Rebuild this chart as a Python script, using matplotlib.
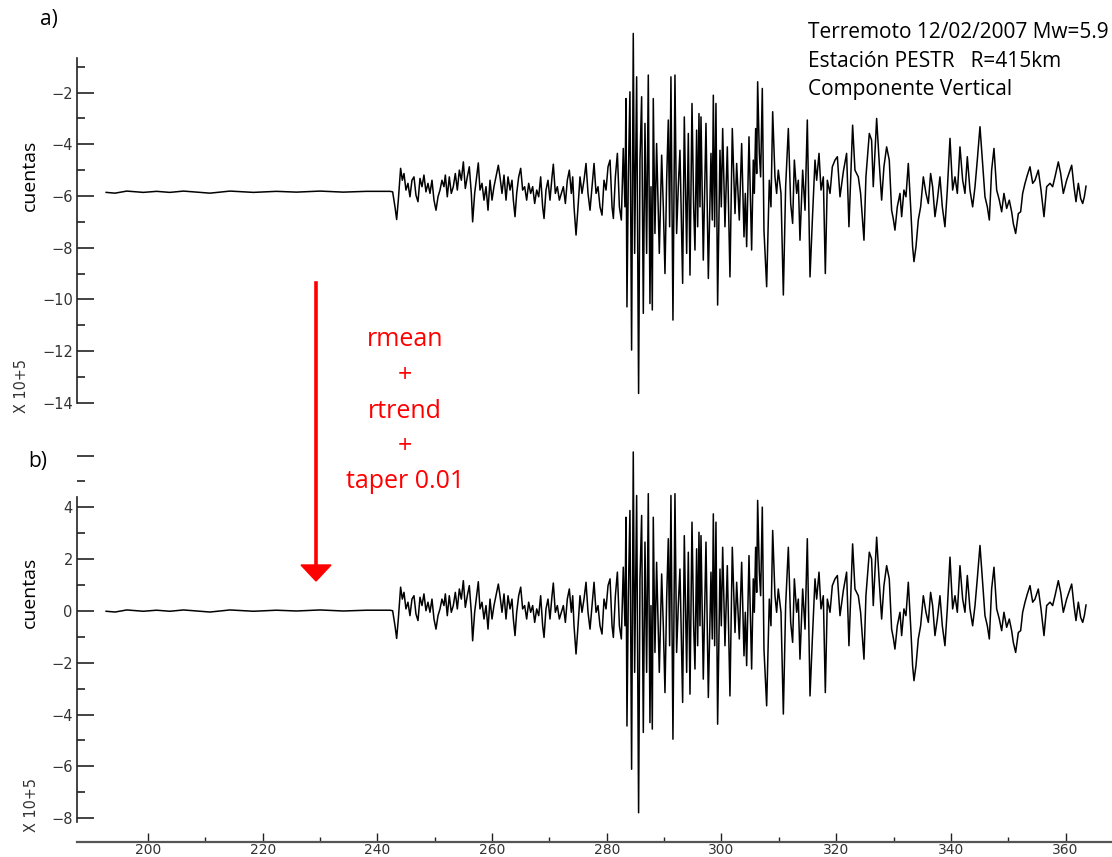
import matplotlib.pyplot as plt
import numpy as np
from matplotlib.ticker import FixedLocator
from matplotlib.lines import Line2D
from matplotlib.patches import Polygon

# seismogram, (time s, counts x 10^5 after rmean/rtrend)
pre_event = [(192.7, -0.01), (194.25, -0.04), (196.3, 0.04), (199.2, -0.01), (201.5, 0.03),
             (203.8, -0.01), (206.2, 0.04), (208.5, 0.0), (210.8, -0.04), (214.3, 0.04),
             (218.4, -0.01), (222.4, 0.03), (225.9, 0.0), (230.0, 0.04), (234.05, 0.0),
             (238.1, 0.03), (242.2, 0.03)]

p_coda = [(242.66, 0.01), (243.07, -0.57), (243.36, -1.06), (243.65, -0.31), (244.05, 0.92),
          (244.35, 0.46), (244.64, 0.72), (244.98, 0.08), (245.33, 0.34), (245.68, -0.18),
          (246.03, 0.46), (246.38, 0.59), (246.73, -0.12), (247.08, -0.37), (247.43, 0.53),
          (247.78, 0.21), (248.12, 0.66), (248.47, 0.01), (248.82, 0.34), (249.17, -0.05),
          (249.52, 0.46), (249.87, -0.31), (250.22, -0.70), (250.57, -0.18), (250.92, 0.08),
          (251.26, 0.46), (251.61, 0.21), (251.85, 0.66), (252.19, -0.18), (252.54, 0.59),
          (252.89, -0.05), (253.24, 0.21), (253.59, 0.72), (253.94, 0.08), (254.29, 0.85),
          (254.64, 0.46), (254.99, 1.17), (255.33, 0.14), (255.68, 0.59), (256.03, 0.98),
          (256.38, -0.05), (256.61, -1.15), (256.96, -0.05), (257.31, 0.59), (257.60, 1.13),
          (257.89, 0.08), (258.24, 0.34), (258.59, -0.31), (258.94, 0.21), (259.29, -0.70),
          (259.64, 0.46), (259.99, -0.31), (260.33, 0.21), (260.68, 0.59), (261.09, 1.04),
          (261.38, 0.59), (261.73, -0.05), (262.08, 0.66), (262.43, -0.31), (262.78, 0.59),
          (263.13, 0.08), (263.47, 0.46), (263.71, -0.31), (264.00, -0.95), (264.29, -0.05),
          (264.64, 0.59), (264.99, 0.92), (265.33, 0.08), (265.68, 0.21), (266.03, -0.31),
          (266.38, 0.34), (266.73, -0.05), (267.08, 0.21), (267.43, -0.44), (267.78, 0.08),
          (268.13, -0.18), (268.47, 0.59), (268.82, -0.57), (269.06, -1.02), (269.40, 0.08),
          (269.75, 0.46), (270.10, -0.31), (270.45, 0.59), (270.68, 1.08), (271.03, -0.05),
          (271.38, 0.21), (271.73, -0.31), (272.08, -0.05), (272.43, 0.21), (272.78, -0.44),
          (273.12, 0.46), (273.47, 0.85), (273.82, -0.05), (274.06, 0.59), (274.29, -0.57),
          (274.64, -1.66), (274.99, -0.57), (275.33, 0.59), (275.68, -0.05), (276.03, 0.46),
          (276.38, 1.11), (276.73, -0.05), (277.08, -0.70), (277.43, 0.21), (277.78, 1.11),
          (278.13, -0.05), (278.47, 0.21), (278.82, -0.57), (279.17, -0.89), (279.52, 0.46),
          (279.87, 0.08), (280.22, 0.98), (280.57, 1.24), (280.92, -0.57), (281.15, -1.02),
          (281.50, 0.59), (281.85, 1.50), (282.20, -0.57), (282.54, -1.08)]

strong_motion = [(282.88, 1.69), (283.17, -0.57), (283.34, 3.62), (283.52, -4.44), (283.75, 0.46),
                 (284.04, 3.88), (284.33, -6.11), (284.62, 6.14), (284.86, -2.37), (285.21, 4.46),
                 (285.55, -7.79), (285.79, 1.24), (286.08, 3.69), (286.37, -4.69), (286.66, 2.66),
                 (286.95, -2.37), (287.24, 4.53), (287.53, -4.31), (287.71, 0.21), (287.94, -4.56),
                 (288.11, 3.62), (288.40, -1.60), (288.69, 1.88), (289.16, -2.37), (289.57, 1.43),
                 (289.86, -0.57), (290.15, -3.15), (290.44, 0.46), (290.73, 2.79), (290.96, -1.34),
                 (291.19, 4.46), (291.54, -4.95), (291.89, 4.53), (292.18, -1.60), (292.47, 0.21),
                 (292.76, 1.62), (293.23, -3.53), (293.52, 2.91), (293.93, -2.37), (294.22, 2.27),
                 (294.51, -3.21), (294.86, 3.43), (295.15, -0.57), (295.38, -2.24), (295.67, 2.40),
                 (295.85, -1.34), (296.08, 3.04), (296.25, -0.57), (296.43, 2.91), (296.83, -2.63),
                 (297.30, 2.66), (297.71, -3.34), (298.17, 1.50), (298.40, -1.08), (298.58, 3.75),
                 (298.81, -1.34), (299.04, 3.43), (299.33, -4.37), (299.74, 1.62), (299.97, -0.57),
                 (300.21, 2.46), (300.61, -1.34), (301.02, 1.75), (301.48, -3.28), (301.89, 2.46),
                 (302.36, -0.83), (302.65, 1.11), (303.11, -1.08), (303.52, 1.88), (303.93, -1.73),
                 (304.16, -0.05), (304.39, -2.11), (304.80, 2.14), (305.26, -2.24), (305.55, 1.24),
                 (305.73, -0.05), (305.96, 2.46), (306.14, 0.72), (306.31, 4.27), (306.60, 1.50),
                 (306.83, 0.59), (307.12, 4.01), (307.41, -1.47), (307.88, -3.66), (308.34, 0.46),
                 (308.63, -0.57), (308.93, 3.11), (309.33, 0.59), (309.62, -0.05), (309.91, 0.85),
                 (310.38, -0.05), (310.79, -3.98), (311.19, 0.21), (311.66, 2.46), (312.07, -0.44),
                 (312.41, -1.21), (312.71, 1.24), (313.11, -0.05), (313.40, 0.46), (313.69, -1.86),
                 (314.16, 0.85), (314.57, -0.70), (314.97, 2.79), (315.44, -3.28), (315.85, -1.08),
                 (316.31, 1.24), (316.60, 0.46), (317.01, 1.50), (317.36, 0.08), (317.76, 0.59),
                 (318.11, -3.15), (318.46, 0.46), (318.93, -0.05), (319.33, 0.98), (319.80, 1.24),
                 (320.21, 1.37), (320.67, -0.18), (321.25, 0.79)]

s_coda = [(321.82, 1.50), (322.23, -1.34), (322.87, 2.59), (323.28, 0.85), (323.86, 0.59),
          (324.26, -0.05), (324.85, -1.86), (325.19, 0.59), (325.78, 2.27), (326.18, 2.01),
          (326.47, 0.21), (327.06, 2.85), (327.52, 1.11), (327.93, -0.31), (328.33, 0.98),
          (328.80, 1.75), (329.26, 1.24), (329.67, -0.70), (329.96, -1.03), (330.25, -1.47),
          (330.66, -0.57), (331.13, -0.05), (331.42, -0.95), (331.82, 0.08), (332.17, -0.18),
          (332.58, 1.11), (332.99, -0.57), (333.33, -2.11), (333.57, -2.69), (333.92, -2.11),
          (334.32, -1.08), (334.73, -0.57), (335.20, 0.59), (335.66, -0.05), (336.07, -0.44),
          (336.47, 0.72), (336.82, 0.21), (337.23, -0.95), (337.64, -0.31), (338.10, 0.59),
          (338.51, -0.57), (338.97, -1.34), (339.38, 0.08), (339.85, 2.08), (340.31, 0.08),
          (340.72, 0.59), (341.13, -0.05), (341.59, 1.75), (342.06, 0.46), (342.46, -0.05),
          (342.87, 1.37), (343.33, 0.08), (343.80, -0.57), (344.21, 0.21), (344.61, 1.24),
          (345.08, 2.53), (345.54, 1.11), (345.95, -0.18), (346.36, -0.57), (346.71, -1.08),
          (347.11, 0.85), (347.52, 1.69), (347.99, 0.08), (348.45, -0.31), (348.86, -0.76),
          (349.26, -0.05), (349.73, -0.63), (350.19, -0.31), (350.60, -0.76), (350.89, -1.21),
          (351.30, -1.60), (351.77, -0.83), (352.17, -0.76), (352.52, -0.05), (352.93, 0.34),
          (353.34, 0.66), (353.80, 0.98), (354.27, 0.34), (354.67, 0.46), (355.25, 0.85),
          (355.72, 0.08), (356.24, -0.95), (356.71, 0.21), (357.29, 0.34), (357.75, 0.21),
          (358.16, 0.59), (358.74, 1.17), (359.15, 0.72), (359.61, -0.05), (360.19, 0.46),
          (361.07, 1.04), (361.47, 0.21), (361.82, -0.37), (362.23, 0.34), (362.64, -0.25),
          (362.99, -0.44), (363.28, -0.18), (363.57, 0.23)]

raw_mean = -5.85  # level of the raw record (panel a), removed by rmean

header_lines = ['Terremoto 12/02/2007 Mw=5.9', 'Estación PESTR   R=415km', 'Componente Vertical']
process_lines = ['rmean', '+', 'rtrend', '+', 'taper 0.01']

trace = np.array(pre_event + p_coda + strong_motion + s_coda)
t = trace[:, 0]
counts = trace[:, 1]

W, H = 1112, 857


def fx(px):
    return px / W


def fy(py):
    return 1 - py / H


fig = plt.figure(figsize=(W / 100, H / 100), dpi=100)
ax_a = fig.add_axes([fx(77), fy(410), 1 - fx(77), (410 - 20) / H])
ax_b = fig.add_axes([fx(77), fy(842), 1 - fx(77), (842 - 440) / H])

for ax in (ax_a, ax_b):
    ax.set_xlim(187.62, 368.1)
    ax.patch.set_alpha(0)
    ax.spines['top'].set_visible(False)
    ax.spines['right'].set_visible(False)
    ax.spines['left'].set_linewidth(1.2)
    ax.spines['left'].set_color('#222222')
    ax.tick_params(axis='y', which='major', direction='in', length=12, width=1.2,
                   color='#222222', labelsize=10.5, labelcolor='#333333', pad=3)
    ax.tick_params(axis='y', which='minor', direction='in', length=6, width=1.2, color='#222222')

# panel a: raw
ax_a.plot(t, counts + raw_mean, color='black', lw=1.1, clip_on=False)
ax_a.set_ylim(-14.279, 0.809)
ax_a.spines['left'].set_bounds(-14, -0.65)
ax_a.spines['bottom'].set_visible(False)
ax_a.set_xticks([])
ax_a.yaxis.set_major_locator(FixedLocator(np.arange(-14, -1, 2)))
ax_a.yaxis.set_minor_locator(FixedLocator(np.arange(-13, 0, 2)))

# panel b: processed
ax_b.plot(t, counts, color='black', lw=1.1, clip_on=False)
ax_b.set_ylim(-8.919, 6.602)
ax_b.spines['left'].set_bounds(-8.15, 4.4)
ax_b.set_yticks(np.arange(-8, 7, 2))
ax_b.set_yticklabels(['\u22128', '\u22126', '\u22124', '\u22122', '0', '2', '4', ''])
ax_b.yaxis.set_minor_locator(FixedLocator(np.arange(-7, 6, 2)))
ax_b.spines['bottom'].set_color('#555555')
ax_b.spines['bottom'].set_linewidth(1.6)
ax_b.set_xticks(np.arange(200, 361, 20))
ax_b.xaxis.set_minor_locator(FixedLocator(np.arange(210, 351, 20)))
ax_b.tick_params(axis='x', which='major', direction='in', length=6.5, width=1.0,
                 color='#222222', labelsize=10, labelcolor='#333333', pad=0.5)
ax_b.tick_params(axis='x', which='minor', direction='in', length=3.3, width=1.0, color='#222222')

# labels
fig.text(fx(49), fy(20), 'a)', fontsize=15, family='Open Sans', ha='center', va='center')
fig.text(fx(38), fy(461), 'b)', fontsize=15, family='Open Sans', ha='center', va='center')
for yc in (175, 592):
    fig.text(fx(30), fy(yc), 'cuentas', fontsize=14, family='Open Sans', rotation=90,
             ha='center', va='center')
for xc, yc in ((22, 386), (32, 805)):
    fig.text(fx(xc), fy(yc), 'X 10+5', fontsize=11.5, rotation=90, ha='center', va='center',
             family='DejaVu Sans', fontstretch='condensed', color='#333333')

for i, line in enumerate(header_lines):
    fig.text(fx(808), fy(33 + 28.5 * i), line, fontsize=15, family='Open Sans',
             ha='left', va='center')

for i, line in enumerate(process_lines):
    fig.text(fx(405), fy(340 + 35.5 * i), line, fontsize=18, family='Open Sans',
             color='#ff0000', ha='center', va='center')

# processing arrow
fig.add_artist(Line2D([fx(316), fx(316)], [fy(283), fy(567)], color='#ff0000', lw=2.6,
                      transform=fig.transFigure))
fig.add_artist(Polygon([(fx(301), fy(565)), (fx(331), fy(565)), (fx(316), fy(581))],
                       closed=True, color='#ff0000', transform=fig.transFigure))

fig.savefig('out.png', dpi=100)
